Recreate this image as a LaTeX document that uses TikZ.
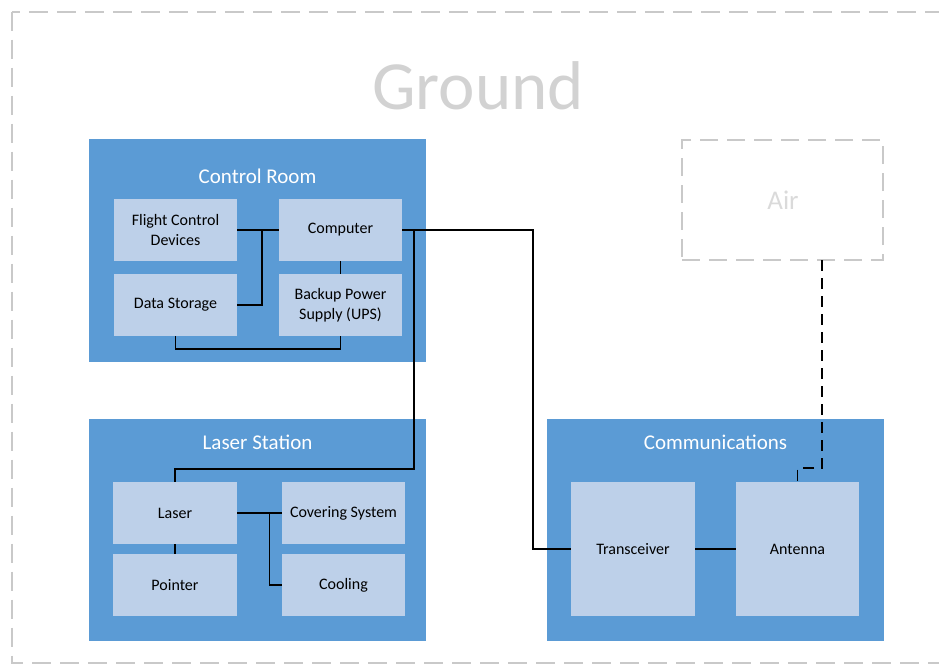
\documentclass[tikz,border=0pt]{standalone}
\usepackage{fontspec}
\setmainfont{Carlito}
\begin{document}
\begin{tikzpicture}[x=1pt,y=-1pt,
  container/.style={fill=groupblue, draw=none, minimum width=#1, anchor=north west, inner sep=0pt},
  part/.style={fill=partblue, draw=none, inner sep=0pt, align=center,
    font=\fontsize{16}{19.5}\selectfont, text=black},
  grouptitle/.style={text=white, font=\fontsize{21}{24}\selectfont, anchor=base, inner sep=0pt},
  wire/.style={draw=black, line width=1.8pt},
  radiowire/.style={wire, dash pattern=on 11pt off 7pt},
  zoneborder/.style={draw=zonegray, line width=2pt, dash pattern=on 19pt off 9pt},
]
\definecolor{groupblue}{HTML}{5B9BD5}
\definecolor{partblue}{HTML}{BDD0E9}
\definecolor{zonegray}{HTML}{C9C9C9}
\definecolor{labelgray}{HTML}{D2D2D2}
\definecolor{airgray}{HTML}{DADADA}

\useasboundingbox (0,0) rectangle (939,664);

% Ground zone
\begin{scope}
  \clip (0,0) rectangle (939,664);
  \draw[zoneborder] (11.5,11.5) rectangle (960,663);
\end{scope}
\node[text=labelgray, font=\fontsize{69}{80}\selectfont, anchor=base, inner sep=0pt] (groundlbl) at (478,109) {Ground};

% Air zone
\node[draw=zonegray, line width=2pt, dash pattern=on 18pt off 9pt, minimum width=201pt, minimum height=120pt, inner sep=0pt] (air) at (782.5,200) {};
\node[text=airgray, font=\fontsize{27}{30}\selectfont, anchor=base, inner sep=0pt] (airlbl) at (783,209) {Air};

% Group panels
\fill[groupblue] (89,139) rectangle (426,362);
\fill[groupblue] (89,419) rectangle (426,641);
\fill[groupblue] (547,419) rectangle (884,641);
\node[grouptitle] (crtitle) at (257.5,183) {Control Room};
\node[grouptitle] (lstitle) at (257.5,449) {Laser Station};
\node[grouptitle] (cmtitle) at (715.5,449) {Communications};

% Control room parts
\node[part, minimum width=123pt, minimum height=62pt] (fcd) at (175.5,230) {Flight Control\\Devices};
\node[part, minimum width=123pt, minimum height=62pt] (comp) at (340.5,230) {Computer};
\node[part, minimum width=123pt, minimum height=62pt] (ds) at (175.5,305) {Data Storage};
\node[part, minimum width=123pt, minimum height=62pt] (ups) at (340.5,305) {Backup Power\\Supply (UPS)};

% Laser station parts
\node[part, minimum width=124pt, minimum height=62pt] (laser) at (175,513) {Laser};
\node[part, minimum width=124pt, minimum height=62pt] (ptr) at (175,585) {Pointer};
\node[part, minimum width=123pt, minimum height=62pt] (cov) at (343.5,513) {Covering System};
\node[part, minimum width=123pt, minimum height=62pt] (cool) at (343.5,585) {Cooling};

% Communications parts
\node[part, minimum width=124pt, minimum height=134pt] (trx) at (633,549) {Transceiver};
\node[part, minimum width=123pt, minimum height=134pt] (ant) at (797.5,549) {Antenna};

% Junction points
\coordinate (crjoin) at (262,230);
\coordinate (dsdrop) at (175.5,349);
\coordinate (lsjoin) at (414,230);
\coordinate (lsturn) at (414,469);
\coordinate (cmjoin) at (533,230);
\coordinate (cooljoin) at (269.5,513);
\coordinate (airdrop) at (822,260);
\coordinate (airturn) at (822,468);

% Control room wiring
\draw[wire] (fcd.east) -- (comp.west);
\draw[wire] (ds.east) -| (crjoin);
\draw[wire] (comp.south) -- (ups.north);
\draw[wire] (ds.south) -- (dsdrop) -| (ups.south);

% Computer to laser station and communications
\draw[wire] (comp.east) -- (cmjoin) |- (trx.west);
\draw[wire] (lsjoin) -- (lsturn) -| (laser.north);

% Laser station wiring
\draw[wire] (laser.east) -- (cov.west);
\draw[wire] (cooljoin) |- (cool.west);
\draw[wire] (laser.south) -- (ptr.north);

% Communications wiring
\draw[wire] (trx.east) -- (ant.west);
\draw[radiowire] (airdrop) -- (airturn) -| (ant.north);
\end{tikzpicture}
\end{document}
